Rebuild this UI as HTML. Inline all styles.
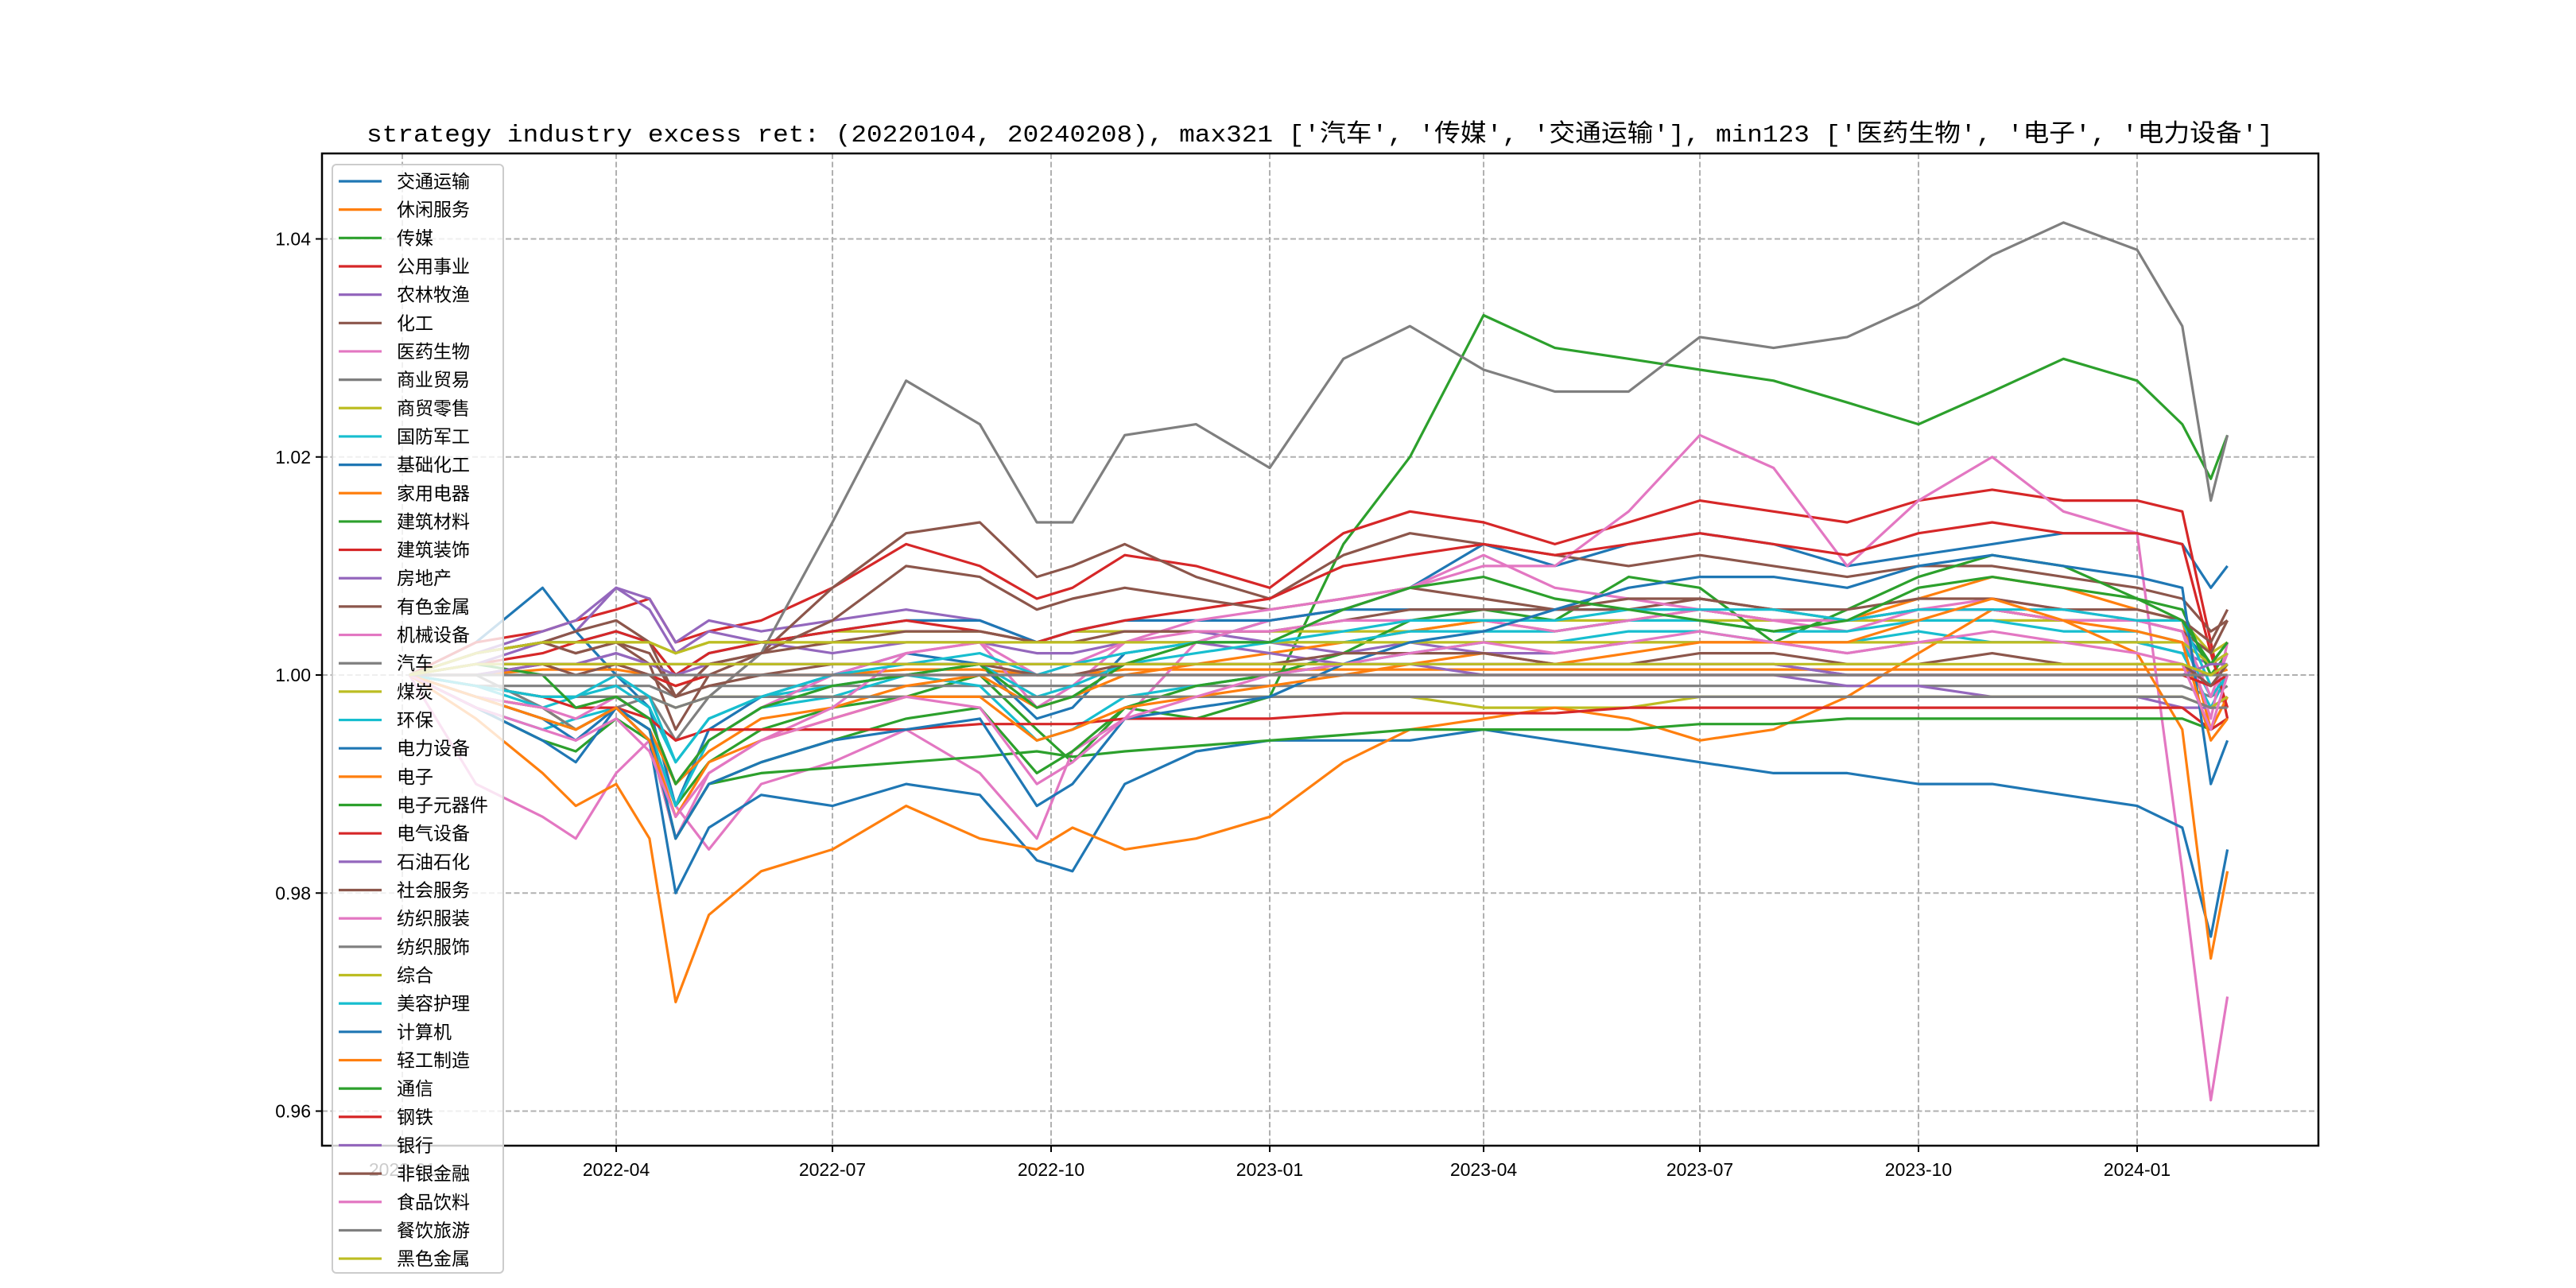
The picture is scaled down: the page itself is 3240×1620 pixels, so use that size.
<!DOCTYPE html>
<html><head><meta charset="utf-8">
<style>
html,body{margin:0;padding:0;background:#fff;}
svg{display:block;}
text{font-family:"Liberation Sans","Noto Sans CJK SC",sans-serif;}
</style></head>
<body>
<svg id="chart" width="3240" height="1620" viewBox="0 0 3240 1620" xmlns="http://www.w3.org/2000/svg">
<rect x="0" y="0" width="3240" height="1620" fill="#fff"/>
<text x="1660" y="178" text-anchor="middle" font-size="31" textLength="2398" lengthAdjust="spacingAndGlyphs" style="font-family:'Liberation Mono','Noto Sans CJK SC',monospace">strategy industry excess ret: (20220104, 20240208), max321 ['汽车', '传媒', '交通运输'], min123 ['医药生物', '电子', '电力设备']</text>
<g id="grid"></g>
<g id="series"></g>
<rect x="405" y="193" width="2511" height="1248" fill="none" stroke="#000" stroke-width="2.5"/>
<g id="axes"></g>
<g id="legend"></g>
</svg>
<script>
const dates = ["2022-01-04","2022-02-01","2022-03-01","2022-03-15","2022-04-01","2022-04-15","2022-04-26","2022-05-10","2022-06-01","2022-07-01","2022-08-01","2022-09-01","2022-09-25","2022-10-10","2022-11-01","2022-12-01","2023-01-01","2023-02-01","2023-03-01","2023-04-01","2023-05-01","2023-06-01","2023-07-01","2023-08-01","2023-09-01","2023-10-01","2023-11-01","2023-12-01","2024-01-01","2024-01-20","2024-02-01","2024-02-08"];
const names = ["交通运输","休闲服务","传媒","公用事业","农林牧渔","化工","医药生物","商业贸易","商贸零售","国防军工","基础化工","家用电器","建筑材料","建筑装饰","房地产","有色金属","机械设备","汽车","煤炭","环保","电力设备","电子","电子元器件","电气设备","石油石化","社会服务","纺织服装","纺织服饰","综合","美容护理","计算机","轻工制造","通信","钢铁","银行","非银金融","食品饮料","餐饮旅游","黑色金属"];
const xTicks = ["2022-01","2022-04","2022-07","2022-10","2023-01","2023-04","2023-07","2023-10","2024-01"];
const yTicks = [0.96,0.98,1.00,1.02,1.04];
// excess return in percent, one array per industry
const s00 = [0,0.3,0.8,0.4,0,-0.3,-1.2,-0.5,-0.2,0,0.2,0.1,-0.4,-0.3,0.2,0.3,0.5,0.6,0.8,1.2,1.0,1.2,1.3,1.2,1.0,1.1,1.2,1.3,1.3,1.2,0.8,1.0];
const s01 = [0,0,0.05,0.05,0.05,0,-0.1,0,0,0,0.05,0.05,0,0,0.05,0.05,0.05,0.05,0.05,0.05,0.05,0.05,0.05,0.05,0.05,0.05,0.05,0.05,0.05,0.05,0,0.05];
const s02 = [0,-0.2,-0.3,-0.5,-0.3,-0.6,-1.2,-0.8,-0.5,-0.3,-0.2,0,-0.5,-0.8,-0.3,-0.4,-0.2,1.2,2.0,3.3,3.0,2.9,2.8,2.7,2.5,2.3,2.6,2.9,2.7,2.3,1.8,2.2];
const s03 = [0,0.3,0.4,0.5,0.6,0.7,0.3,0.4,0.5,0.8,1.2,1.0,0.7,0.8,1.1,1.0,0.8,1.3,1.5,1.4,1.2,1.4,1.6,1.5,1.4,1.6,1.7,1.6,1.6,1.5,0.3,-0.4];
const s04 = [0,0.2,0.4,0.5,0.8,0.7,0.3,0.5,0.4,0.5,0.6,0.5,0.3,0.4,0.4,0.4,0.3,0.2,0.3,0.2,0.2,0.3,0.3,0.3,0.2,0.3,0.3,0.3,0.3,0.2,0.1,0.2];
const s05 = [0,0.2,0.3,0.2,0.3,0.1,-0.5,0,0.2,0.8,1.3,1.4,0.9,1.0,1.2,0.9,0.7,1.1,1.3,1.2,1.1,1.0,1.1,1.0,0.9,1.0,1.0,0.9,0.8,0.7,0.4,0.5];
const s06 = [0,-1.0,-1.3,-1.5,-0.9,-0.6,-1.2,-1.6,-1.0,-0.8,-0.5,-0.9,-1.5,-0.7,-0.4,0.3,0.5,0.6,0.8,1.0,1.0,1.5,2.2,1.9,1.0,1.6,2.0,1.5,1.3,-1.8,-3.9,-2.95];
const s07 = [0,-0.1,-0.1,-0.1,-0.1,-0.1,-0.2,-0.1,-0.1,-0.1,-0.1,-0.1,-0.1,-0.1,-0.1,-0.1,-0.1,-0.1,-0.1,-0.1,-0.1,-0.1,-0.1,-0.1,-0.1,-0.1,-0.1,-0.1,-0.1,-0.1,-0.2,-0.1];
const s08 = [0,0.2,0.3,0.3,0.3,0.3,0.2,0.3,0.3,0.4,0.4,0.4,0.3,0.4,0.4,0.4,0.4,0.4,0.4,0.5,0.5,0.5,0.5,0.5,0.5,0.5,0.5,0.5,0.5,0.5,0.2,0.3];
const s09 = [0,-0.3,-0.5,-0.4,-0.3,-0.5,-1.2,-0.6,-0.3,-0.2,0,-0.1,-0.6,-0.5,-0.2,-0.1,0,0.1,0.2,0.3,0.3,0.4,0.4,0.3,0.3,0.4,0.3,0.3,0.3,0.2,-0.3,0];
const s10 = [0,0.2,0.3,0.3,0.4,0.3,0,0.2,0.3,0.4,0.5,0.5,0.3,0.4,0.5,0.5,0.5,0.6,0.6,0.6,0.6,0.6,0.6,0.5,0.5,0.6,0.6,0.5,0.5,0.4,0.1,0.3];
const s11 = [0,-0.2,-0.3,-0.5,-0.3,-0.5,-1.0,-0.7,-0.4,-0.3,-0.1,0,-0.3,-0.2,0,0.1,0.2,0.3,0.4,0.5,0.4,0.5,0.6,0.5,0.5,0.7,0.9,0.8,0.6,0.5,-0.5,-0.2];
const s12 = [0,-0.3,-0.6,-0.7,-0.4,-0.6,-1.5,-1.0,-0.8,-0.6,-0.4,-0.3,-0.9,-0.7,-0.3,-0.1,0,0.2,0.5,0.6,0.5,0.9,0.8,0.3,0.6,0.9,1.1,1.0,0.7,0.6,0,0.2];
const s13 = [0,0.1,0.2,0.3,0.4,0.3,0,0.2,0.3,0.4,0.5,0.4,0.3,0.4,0.5,0.6,0.7,1.0,1.1,1.2,1.1,1.2,1.3,1.2,1.1,1.3,1.4,1.3,1.3,1.2,0.2,-0.3];
const s14 = [0,0.1,0.3,0.4,0.8,0.6,0.2,0.4,0.3,0.2,0.3,0.3,0.2,0.2,0.3,0.3,0.2,0.1,0.1,0,0,0,0,0,-0.1,-0.1,-0.2,-0.2,-0.2,-0.3,-0.3,-0.2];
const s15 = [0,0.2,0.3,0.4,0.5,0.3,-0.2,0.1,0.2,0.5,1.0,0.9,0.6,0.7,0.8,0.7,0.6,0.7,0.8,0.7,0.6,0.6,0.7,0.6,0.5,0.6,0.6,0.5,0.5,0.4,0.2,0.5];
const s16 = [0,-0.2,-0.4,-0.5,-0.3,-0.6,-1.5,-0.9,-0.6,-0.3,0.2,0.3,-0.3,-0.1,0.3,0.5,0.6,0.7,0.8,1.1,0.8,0.7,0.6,0.5,0.4,0.6,0.7,0.6,0.5,0.4,-0.4,0.3];
const s17 = [0,0,-0.3,-0.5,-0.3,-0.2,-0.6,-0.2,0.2,1.4,2.7,2.3,1.4,1.4,2.2,2.3,1.9,2.9,3.2,2.8,2.6,2.6,3.1,3.0,3.1,3.4,3.85,4.15,3.9,3.2,1.6,2.2];
const s18 = [0,-0.1,-0.2,-0.2,-0.2,-0.2,-0.3,-0.2,-0.2,-0.2,-0.2,-0.2,-0.2,-0.2,-0.2,-0.2,-0.2,-0.2,-0.2,-0.3,-0.3,-0.3,-0.2,-0.2,-0.2,-0.2,-0.2,-0.2,-0.2,-0.2,-0.3,-0.2];
const s19 = [0,-0.1,-0.3,-0.2,-0.1,-0.3,-0.8,-0.4,-0.2,-0.1,0,0.1,-0.2,-0.1,0.1,0.2,0.3,0.3,0.4,0.4,0.4,0.5,0.5,0.4,0.4,0.5,0.5,0.4,0.4,0.3,-0.2,0];
const s20 = [0,-0.3,-0.6,-0.8,-0.3,-0.6,-2.0,-1.4,-1.1,-1.2,-1.0,-1.1,-1.7,-1.8,-1.0,-0.7,-0.6,-0.6,-0.6,-0.5,-0.6,-0.7,-0.8,-0.9,-0.9,-1.0,-1.0,-1.1,-1.2,-1.4,-2.4,-1.6];
const s21 = [0,-0.4,-0.9,-1.2,-1.0,-1.5,-3.0,-2.2,-1.8,-1.6,-1.2,-1.5,-1.6,-1.4,-1.6,-1.5,-1.3,-0.8,-0.5,-0.4,-0.3,-0.4,-0.6,-0.5,-0.2,0.2,0.6,0.5,0.2,-0.5,-2.6,-1.8];
const s22 = [0,-0.2,-0.4,-0.5,-0.3,-0.5,-1.5,-1.0,-0.9,-0.85,-0.8,-0.75,-0.7,-0.75,-0.7,-0.65,-0.6,-0.55,-0.5,-0.5,-0.5,-0.5,-0.45,-0.45,-0.4,-0.4,-0.4,-0.4,-0.4,-0.4,-0.5,-0.4];
const s23 = [0,-0.1,-0.2,-0.3,-0.3,-0.4,-0.6,-0.5,-0.5,-0.5,-0.5,-0.45,-0.45,-0.45,-0.4,-0.4,-0.4,-0.35,-0.35,-0.35,-0.35,-0.3,-0.3,-0.3,-0.3,-0.3,-0.3,-0.3,-0.3,-0.3,-0.5,-0.4];
const s24 = [0,0.1,0.1,0.1,0.2,0.1,0,0.1,0.1,0.1,0.1,0.1,0.1,0.1,0.1,0.1,0.1,0.1,0.1,0.1,0.1,0.1,0.1,0.1,0,0,0,0,0,0,-0.1,0];
const s25 = [0,0.2,0.3,0.2,0.3,0.2,-0.2,0.1,0.2,0.3,0.4,0.4,0.3,0.3,0.4,0.4,0.4,0.5,0.6,0.6,0.6,0.7,0.7,0.6,0.6,0.7,0.7,0.6,0.6,0.5,0.3,0.6];
const s26 = [0,-0.2,-0.3,-0.4,-0.2,-0.4,-1.0,-0.6,-0.3,0,0.2,0.3,0,0.1,0.3,0.4,0.4,0.5,0.5,0.5,0.4,0.5,0.6,0.5,0.5,0.6,0.6,0.5,0.5,0.4,-0.2,0.2];
const s27 = [0,-0.1,-0.2,-0.2,-0.2,-0.2,-0.3,-0.2,-0.2,-0.2,-0.2,-0.2,-0.2,-0.2,-0.2,-0.2,-0.2,-0.2,-0.2,-0.2,-0.2,-0.2,-0.2,-0.2,-0.2,-0.2,-0.2,-0.2,-0.2,-0.2,-0.3,-0.3];
const s28 = [0,0.2,0.3,0.3,0.3,0.3,0.2,0.3,0.3,0.3,0.3,0.3,0.3,0.3,0.3,0.3,0.3,0.3,0.3,0.3,0.3,0.3,0.3,0.3,0.3,0.3,0.3,0.3,0.3,0.3,0.1,0.2];
const s29 = [0,-0.1,-0.2,-0.2,0,-0.2,-0.8,-0.4,-0.2,0,0.1,0.2,0,0.1,0.2,0.3,0.3,0.4,0.5,0.5,0.5,0.6,0.6,0.6,0.5,0.6,0.6,0.6,0.5,0.5,-0.1,0.1];
const s30 = [0,-0.2,-0.4,-0.6,-0.3,-0.5,-1.5,-1.0,-0.8,-0.6,-0.5,-0.4,-1.2,-1.0,-0.4,-0.3,-0.2,0.1,0.3,0.4,0.6,0.8,0.9,0.9,0.8,1.0,1.1,1.0,0.9,0.8,-1.0,-0.6];
const s31 = [0,-0.2,-0.4,-0.5,-0.3,-0.6,-1.3,-0.8,-0.6,-0.4,-0.2,-0.2,-0.6,-0.5,-0.3,-0.2,-0.1,0,0.1,0.2,0.1,0.2,0.3,0.3,0.3,0.5,0.7,0.5,0.4,0.3,-0.6,-0.4];
const s32 = [0,0.1,0,-0.3,-0.2,-0.4,-1.0,-0.6,-0.3,-0.1,0,0.1,-0.3,-0.2,0.1,0.3,0.3,0.6,0.8,0.9,0.7,0.6,0.5,0.4,0.5,0.8,0.9,0.8,0.7,0.5,0.1,0.3];
const s33 = [0,0,0.1,0.1,0.1,0,-0.1,0,0,0,0,0,0,0,0,0,0,0,0,0,0,0,0,0,0,0,0,0,0,0,-0.1,0];
const s34 = [0,0,0.1,0.1,0.2,0.1,0.1,0.1,0.1,0.1,0.1,0.1,0.1,0.1,0.1,0.1,0.1,0.1,0.1,0.1,0.1,0.1,0.1,0.1,0,0,0,0,0,0,0.1,0.1];
const s35 = [0,0.1,0.1,0,0.1,0,-0.2,-0.1,0,0.1,0.1,0.1,0,0,0.1,0.1,0.1,0.2,0.2,0.2,0.1,0.1,0.2,0.2,0.1,0.1,0.2,0.1,0.1,0.1,-0.1,0.1];
const s36 = [0,-0.3,-0.5,-0.6,-0.4,-0.7,-1.3,-0.9,-0.6,-0.4,-0.2,-0.3,-1.0,-0.8,-0.4,-0.2,0,0.1,0.2,0.3,0.2,0.3,0.4,0.3,0.2,0.3,0.4,0.3,0.2,0.1,-0.5,0];
const s37 = [0,0,0,0,0,0,0,0,0,0,0,0,0,0,0,0,0,0,0,0,0,0,0,0,0,0,0,0,0,0,0,0];
const s38 = [0,0.1,0.1,0.1,0.1,0.1,0.1,0.1,0.1,0.1,0.1,0.1,0.1,0.1,0.1,0.1,0.1,0.1,0.1,0.1,0.1,0.1,0.1,0.1,0.1,0.1,0.1,0.1,0.1,0.1,0,0.1];
const seriesValues = [s00,s01,s02,s03,s04,s05,s06,s07,s08,s09,s10,s11,s12,s13,s14,s15,s16,s17,s18,s19,s20,s21,s22,s23,s24,s25,s26,s27,s28,s29,s30,s31,s32,s33,s34,s35,s36,s37,s38];

const palette = ["#1f77b4","#ff7f0e","#2ca02c","#d62728","#9467bd","#8c564b","#e377c2","#7f7f7f","#bcbd22","#17becf"];
const NS = "http://www.w3.org/2000/svg";
const L = 405, R = 2916, T = 193, B = 1441;
const refDay = Date.UTC(2024,0,1);
function dayOf(s){const p=s.split("-").map(Number);return (Date.UTC(p[0],p[1]-1,p[2]||1)-refDay)/86400000;}
function xScale(s){return 2688 + dayOf(s)*2.989;}
function yScale(v){return 849 - (v-1)*13712.5;}
function el(tag, attrs, parent){const e=document.createElementNS(NS,tag);for(const k in attrs)e.setAttribute(k,attrs[k]);parent.appendChild(e);return e;}

const grid = document.getElementById("grid");
const axes = document.getElementById("axes");
xTicks.forEach(t=>{
  const x = xScale(t+"-01");
  const g = el("line",{x1:x,x2:x,y1:T,y2:B,stroke:"#b0b0b0","stroke-width":2,"stroke-dasharray":"7,3.5"},grid);
  
  
  const tk = el("line",{x1:x,x2:x,y1:B,y2:B+8,stroke:"#000","stroke-width":2},axes);
  
  
  const lb = el("text",{x:x,y:B+38,"text-anchor":"middle","font-size":23},axes);
  lb.textContent = t;
  
  
});
yTicks.forEach(v=>{
  const y = yScale(v);
  const g = el("line",{x1:L,x2:R,y1:y,y2:y,stroke:"#b0b0b0","stroke-width":2,"stroke-dasharray":"7,3.5"},grid);
  
  
  const tk = el("line",{x1:L-8,x2:L,y1:y,y2:y,stroke:"#000","stroke-width":2},axes);
  
  
  const lb = el("text",{x:L-14,y:y+8,"text-anchor":"end","font-size":23},axes);
  lb.textContent = v.toFixed(2);
  
  
});

const seriesG = document.getElementById("series");
seriesValues.forEach((vals,i)=>{
  const pts = vals.map((v,j)=>xScale(dates[j]).toFixed(1)+","+yScale(1+v/100).toFixed(1)).join(" ");
  const pl = el("polyline",{points:pts,fill:"none",stroke:palette[i%10],"stroke-width":3.2,"stroke-linejoin":"round"},seriesG);
  
  
});

const lg = document.getElementById("legend");
const box = el("rect",{x:418,y:207,width:215,height:1394,rx:5,fill:"#fff","fill-opacity":0.8,stroke:"#cccccc","stroke-width":2},lg);


names.forEach((n,i)=>{
  const cy = 228 + i*35.66;
  const ln = el("line",{x1:426,x2:480,y1:cy,y2:cy,stroke:palette[i%10],"stroke-width":3.2},lg);
  
  
  const tx = el("text",{x:499,y:cy+8,"font-size":23},lg);
  tx.textContent = n;
  
  
});
</script>
</body></html>
